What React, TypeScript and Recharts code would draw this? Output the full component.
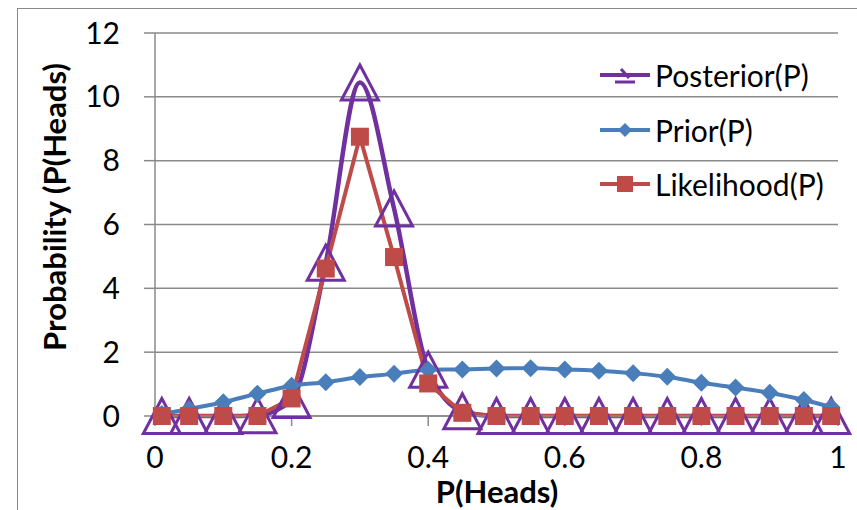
import React from "react";
import { LineChart, Line, XAxis, YAxis, CartesianGrid } from "recharts";

// P(Heads) sample points
const pHeads = [
  0.01, 0.05, 0.1, 0.15, 0.2, 0.25, 0.3, 0.35, 0.4, 0.45, 0.5, 0.55, 0.6,
  0.65, 0.7, 0.75, 0.8, 0.85, 0.9, 0.95, 0.99,
];
const posterior = [
  0, 0, 0, 0.02, 0.5, 4.8, 10.45, 6.5, 1.45, 0.15, 0, 0, 0, 0, 0, 0, 0, 0, 0,
  0, 0,
];
const prior = [
  0.06, 0.22, 0.43, 0.7, 0.95, 1.06, 1.22, 1.32, 1.45, 1.46, 1.49, 1.5, 1.46,
  1.42, 1.34, 1.23, 1.04, 0.89, 0.73, 0.5, 0.28,
];
const likelihood = [
  0, 0, 0, 0, 0.55, 4.62, 8.75, 4.98, 1.02, 0.1, 0, 0, 0, 0, 0, 0, 0, 0, 0, 0,
  0,
];
const xTicks = [0, 0.2, 0.4, 0.6, 0.8, 1];
const yTicks = [0, 2, 4, 6, 8, 10, 12];

const data = pHeads.map((p, i) => ({
  p,
  posterior: posterior[i],
  prior: prior[i],
  likelihood: likelihood[i],
}));

const PURPLE = "#7030A0";
const BLUE = "#4A7EBB";
const RED = "#BE4B48";
const GRID = "#8a8a8a";
const FONT = "Lato, 'Open Sans', sans-serif";

const Triangle = (props: any) => {
  const { cx, cy, index } = props;
  if (cx == null || cy == null) return <g key={index} />;
  const w = 18.5;
  const h = 17.5;
  return (
    <path
      key={`t${index}`}
      d={`M${cx},${cy - h} L${cx + w},${cy + h} L${cx - w},${cy + h} Z`}
      fill="none"
      stroke={PURPLE}
      strokeWidth={3}
    />
  );
};

const Diamond = (props: any) => {
  const { cx, cy, index } = props;
  if (cx == null || cy == null) return <g key={index} />;
  const r = 9;
  return (
    <path
      key={`d${index}`}
      d={`M${cx},${cy - r} L${cx + r},${cy} L${cx},${cy + r} L${cx - r},${cy} Z`}
      fill={BLUE}
    />
  );
};

const Square = (props: any) => {
  const { cx, cy, index } = props;
  if (cx == null || cy == null) return <g key={index} />;
  const r = 9;
  return (
    <rect
      key={`s${index}`}
      x={cx - r}
      y={cy - r}
      width={r * 2}
      height={r * 2}
      fill={RED}
    />
  );
};

const legendItems = [
  { name: "Posterior(P)", color: PURPLE, kind: "tri" },
  { name: "Prior(P)", color: BLUE, kind: "dia" },
  { name: "Likelihood(P)", color: RED, kind: "sq" },
];

const LegendIcon = ({ kind, color }: { kind: string; color: string }) => (
  <svg width={54} height={30} style={{ display: "block" }}>
    <line x1={2} y1={15} x2={52} y2={15} stroke={color} strokeWidth={4} />
    {kind === "tri" && (
      <g stroke={color} strokeWidth={3} fill="none">
        <line x1={23} y1={9} x2={31} y2={18} />
        <line x1={17} y1={22} x2={37} y2={22} />
      </g>
    )}
    {kind === "dia" && <path d="M27,8 L34,15 L27,22 L20,15 Z" fill={color} />}
    {kind === "sq" && <rect x={19} y={7} width={16} height={16} fill={color} />}
  </svg>
);

export default function App() {
  return (
    <div
      style={{
        position: "absolute",
        left: 0,
        top: 0,
        width: 857,
        height: 510,
        overflow: "hidden",
        background: "#fff",
      }}
    >
      <div
        style={{
          position: "absolute",
          left: 17,
          top: 8,
          width: 900,
          height: 600,
          border: `1.5px solid ${GRID}`,
        }}
      />
      <div style={{ position: "absolute", left: 0, top: 0 }}>
        <LineChart
          width={857}
          height={510}
          data={data}
          margin={{ top: 33, right: 19, bottom: 0, left: 0 }}
          style={{ fontFamily: FONT }}
        >
          <CartesianGrid vertical={false} stroke={GRID} strokeWidth={1.5} />
          <XAxis
            dataKey="p"
            type="number"
            domain={[0, 1]}
            ticks={xTicks}
            tickFormatter={(v: number) => String(v)}
            height={94}
            axisLine={{ stroke: GRID, strokeWidth: 1.5 }}
            tickLine={{ stroke: GRID, strokeWidth: 1.5 }}
            tickSize={10}
            tickMargin={21}
            tick={{ fill: "#000", fontSize: 30, fontFamily: FONT }}
            label={{
              content: () => (
                <text
                  x={497}
                  y={503}
                  textAnchor="middle"
                  fontSize={31}
                  fontWeight="bold"
                  fontFamily={FONT}
                  fill="#000"
                >
                  P(Heads)
                </text>
              ),
            }}
          />
          <YAxis
            type="number"
            domain={[0, 12]}
            ticks={yTicks}
            width={155}
            axisLine={{ stroke: GRID, strokeWidth: 1.5 }}
            tickLine={{ stroke: GRID, strokeWidth: 1.5 }}
            tickSize={11}
            tickMargin={24}
            tick={{ fill: "#000", fontSize: 30, fontFamily: FONT }}
            label={{
              content: () => (
                <text
                  x={66}
                  y={207}
                  transform="rotate(-90 66 207)"
                  textAnchor="middle"
                  fontSize={31}
                  fontWeight="bold"
                  fontFamily={FONT}
                  fill="#000"
                >
                  Probability (P(Heads)
                </text>
              ),
            }}
          />
          <Line
            type="monotone"
            dataKey="posterior"
            name="Posterior(P)"
            stroke={PURPLE}
            strokeWidth={4.5}
            dot={Triangle}
            activeDot={false}
            isAnimationActive={false}
          />
          <Line
            type="monotone"
            dataKey="prior"
            name="Prior(P)"
            stroke={BLUE}
            strokeWidth={4}
            dot={Diamond}
            activeDot={false}
            isAnimationActive={false}
          />
          <Line
            type="linear"
            dataKey="likelihood"
            name="Likelihood(P)"
            stroke={RED}
            strokeWidth={4}
            dot={Square}
            activeDot={false}
            isAnimationActive={false}
          />
        </LineChart>
      </div>
      <div
        style={{
          position: "absolute",
          left: 598,
          top: 48,
          fontFamily: FONT,
          fontSize: 30,
          color: "#000",
        }}
      >
        {legendItems.map((it) => (
          <div
            key={it.name}
            style={{ display: "flex", alignItems: "center", height: 54.5 }}
          >
            <LegendIcon kind={it.kind} color={it.color} />
            <span style={{ marginLeft: 3 }}>{it.name}</span>
          </div>
        ))}
      </div>
    </div>
  );
}
